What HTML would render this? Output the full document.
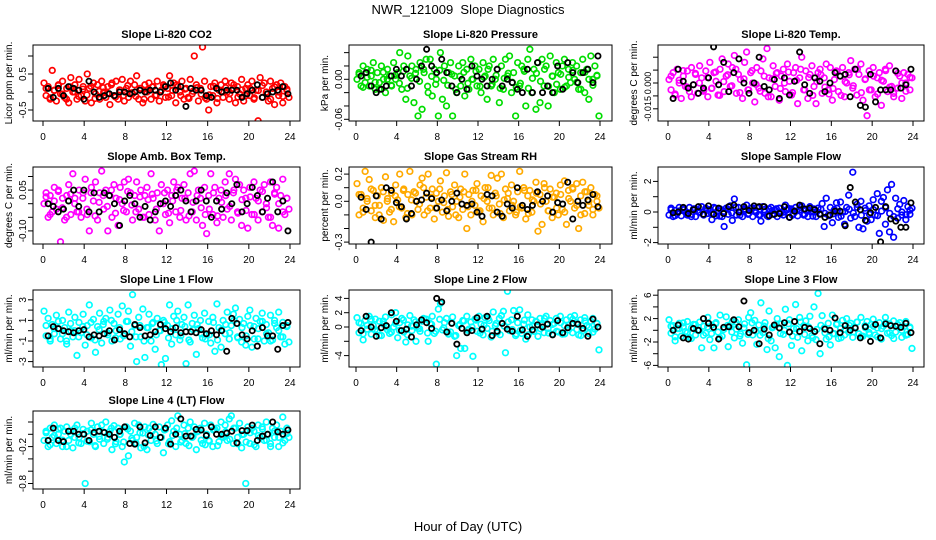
<!DOCTYPE html>
<html><head><meta charset="utf-8"><style>
html,body{margin:0;padding:0;background:#fff;}
svg{display:block;font-family:"Liberation Sans",sans-serif;}
</style></head><body>
<svg id="chart" width="936" height="540" viewBox="0 0 936 540" xmlns="http://www.w3.org/2000/svg">
<rect width="936" height="540" fill="#fff"/>
<text x="468" y="14" font-size="13" text-anchor="middle">NWR_121009&#160; Slope Diagnostics</text>
<text x="468" y="531" font-size="13" text-anchor="middle">Hour of Day (UTC)</text>
</svg>
<script>
const co2Color=[0.25,-0.1,0.15,-0.2,0.6,0.05,-0.25,0.2,-0.05,0.3,-0.15,0.1,-0.3,0.4,0.0,0.2,-0.2,0.35,-0.1,0.15,-0.25,0.5,0.1,-0.3,0.25,-0.05,0.2,-0.2,0.3,0.0,-0.15,0.15,-0.35,0.25,-0.1,0.3,-0.2,0.05,0.35,-0.25,0.1,-0.15,0.3,-0.05,0.2,0.45,-0.2,0.1,-0.3,0.2,0.0,0.25,-0.2,0.15,-0.1,0.3,-0.25,0.05,0.2,-0.15,0.1,0.45,-0.1,0.25,-0.3,0.15,0.0,0.3,-0.2,0.1,-0.15,0.35,-0.05,1.0,0.2,-0.25,0.1,1.25,0.3,-0.2,-0.5,0.15,-0.1,0.25,-0.3,0.05,0.2,-0.15,0.3,0.0,-0.2,0.25,0.1,-0.3,0.15,-0.05,0.35,-0.25,0.1,0.2,-0.1,0.3,-0.2,0.05,-0.8,0.4,-0.15,0.25,0.0,-0.25,0.3,0.1,-0.35,0.2,-0.1,0.25,-0.3,0.15,0.05,-0.15];
const co2Band=[0.1,-0.16,0.04,0.18,-0.06,-0.2,0.14,0,-0.12,0.08,-0.08,0.16,-0.18,0.02,0.12,-0.04,0.2,-0.14,0.06,-0.1,0.18,-0.02,-0.12,0.1,-0.2,0.06,0.14,-0.08,0,0.16,-0.14,0.04,0.2,-0.1,0.08,-0.18,0.02,0.12,-0.06,-0.16,-0.08,0.16,-0.18,0.02,0.12,-0.04,0.2,-0.14,0.06,-0.1,0.1,-0.16,0.04,0.18,-0.06,-0.2,0.14,0,-0.12,0.08];
const co2Black=[0.1,-0.15,0.1,-0.1,0.15,0.1,0.05,-0.2,0.3,0,-0.15,-0.1,-0.05,-0.1,0,0,-0.05,0,0.05,0,0.05,0.05,0,0.15,0.25,0.05,0.15,-0.4,0.1,0.05,0.05,-0.1,-0.15,0.1,0,0.05,0.05,0.05,-0.15,-0.05,0.05,0.2,-0.15,-0.05,0,0.05,0.15,-0.05];
const presColor=[0.0,0.01,-0.01,0.02,-0.005,0.015,-0.01,0.005,0.025,-0.015,0.01,-0.005,0.02,0.0,-0.02,0.015,0.005,-0.01,0.025,0.0,0.01,0.04,-0.015,0.02,-0.03,0.035,0.005,0.02,-0.035,0.015,-0.055,0.025,-0.045,0.01,0.03,-0.02,0.03,-0.025,0.015,0.0,-0.055,0.04,-0.03,0.02,-0.04,0.01,0.025,-0.055,0.005,-0.02,0.02,-0.01,0.025,-0.025,0.015,-0.015,0.03,0.0,0.02,-0.01,0.015,-0.02,0.025,0.005,-0.03,0.02,-0.01,0.03,0.0,0.015,-0.035,0.02,-0.015,0.03,0.005,0.035,-0.02,0.01,-0.055,0.025,-0.01,0.02,0.015,-0.04,0.03,0.045,-0.02,0.015,-0.045,0.025,-0.035,0.03,-0.01,0.02,-0.04,0.035,0.005,-0.02,0.025,0.01,-0.015,0.02,0.03,-0.01,0.015,-0.005,0.025,0.0,0.02,-0.015,0.01,0.03,-0.02,0.015,-0.03,0.035,0.0,0.02,0.005,-0.055];
const presBand=[0.0075,-0.012,0.003,0.0135,-0.0045,-0.015,0.0105,0,-0.009,0.006,-0.006,0.012,-0.0135,0.0015,0.009,-0.003,0.015,-0.0105,0.0045,-0.0075,0.0135,-0.0015,-0.009,0.0075,-0.015,0.0045,0.0105,-0.006,0,0.012,-0.0105,0.003,0.015,-0.0075,0.006,-0.0135,0.0015,0.009,-0.0045,-0.012,-0.006,0.012,-0.0135,0.0015,0.009,-0.003,0.015,-0.0105,0.0045,-0.0075,0.0075,-0.012,0.003,0.0135,-0.0045,-0.015,0.0105,0,-0.009,0.006];
const presBlack=[0.005,0.01,-0.01,-0.02,-0.015,-0.01,0.005,0.015,0.005,0.015,-0.01,0.0,0.02,0.045,0.02,0.01,0.03,0.01,-0.01,-0.02,0.0,-0.015,0.02,0.005,0.0,-0.01,0.0,0.015,-0.01,0.0,-0.005,-0.015,-0.02,0.015,-0.02,0.025,-0.02,-0.01,-0.02,0.02,-0.015,0.025,0.01,-0.005,0.01,0.015,-0.005,0.035];
const tempColor=[0.002,-0.004,0.006,-0.007,0.008,0.0,-0.009,0.004,-0.002,0.007,-0.005,0.009,-0.001,0.005,-0.006,0.01,0.003,-0.004,0.007,-0.008,0.012,-0.003,0.006,0.001,-0.007,0.008,0.014,-0.005,0.004,0.011,-0.002,0.009,0.016,-0.006,0.005,0.002,-0.009,0.012,0.018,-0.004,0.006,0.0,-0.011,0.009,-0.003,0.007,0.014,-0.006,0.02,0.003,-0.008,0.01,-0.002,0.006,-0.01,0.004,0.008,-0.005,0.011,0.001,-0.007,0.006,0.009,-0.012,0.003,0.015,-0.004,0.007,-0.009,0.005,0.01,-0.002,-0.012,0.006,0.008,-0.006,0.003,0.011,-0.004,0.009,-0.01,0.002,0.007,-0.005,0.004,0.009,-0.008,0.0,0.006,0.013,-0.003,0.008,-0.007,0.005,0.011,-0.01,0.002,-0.019,0.007,-0.004,0.009,-0.008,0.003,0.006,-0.013,0.001,0.008,-0.005,0.01,-0.002,-0.006,0.007,-0.003,0.004,-0.009,0.006,0.0,0.005,-0.004,0.003];
const tempBand=[0.004,-0.0064,0.0016,0.0072,-0.0024,-0.008,0.0056,0,-0.0048,0.0032,-0.0032,0.0064,-0.0072,0.0008,0.0048,-0.0016,0.008,-0.0056,0.0024,-0.004,0.0072,-0.0008,-0.0048,0.004,-0.008,0.0024,0.0056,-0.0032,0,0.0064,-0.0056,0.0016,0.008,-0.004,0.0032,-0.0072,0.0008,0.0048,-0.0024,-0.0064,-0.0032,0.0064,-0.0072,0.0008,0.0048,-0.0016,0.008,-0.0056,0.0024,-0.004,0.004,-0.0064,0.0016,0.0072,-0.0024,-0.008,0.0056,0,-0.0048,0.0032];
const tempBlack=[-0.009,0.008,0.001,-0.003,-0.001,-0.006,-0.003,0.003,0.021,-0.001,0.012,-0.005,0.006,0.014,0.0,-0.006,0.0,0.015,-0.002,-0.004,0.002,-0.009,0.003,-0.007,0.001,0.018,-0.001,-0.006,0.003,0.001,-0.005,0.0,0.006,0.004,0.005,-0.008,0.008,-0.013,-0.014,0.005,-0.011,-0.004,-0.004,-0.004,0.007,-0.003,-0.001,0.008];
const ambColor=[0.0,0.04,-0.05,0.03,-0.03,0.06,-0.02,0.05,-0.14,0.02,-0.06,0.03,0.07,-0.04,0.11,0.02,-0.03,0.05,-0.05,0.04,0.09,-0.04,-0.1,0.06,0.01,0.08,-0.06,0.04,0.12,-0.02,0.05,-0.1,0.03,-0.05,0.07,0.02,-0.08,0.06,0.0,0.08,-0.03,0.09,0.04,-0.06,0.03,0.08,-0.02,0.05,-0.05,0.03,0.06,-0.04,0.11,0.02,-0.06,0.04,-0.1,0.07,0.0,-0.04,0.05,-0.07,0.03,0.08,-0.03,0.06,-0.05,0.02,0.07,-0.06,0.04,0.11,-0.03,0.12,-0.06,0.05,0.02,-0.08,0.06,-0.11,0.03,0.11,-0.04,0.06,-0.07,0.02,0.05,-0.05,0.08,-0.02,0.11,-0.06,0.04,0.09,-0.03,0.07,-0.08,0.05,0.02,-0.09,0.06,-0.04,0.08,0.02,-0.06,0.05,-0.03,0.07,0.0,-0.05,0.08,-0.08,0.04,0.06,-0.09,0.03,0.09,-0.04,0.02,-0.02];
const ambBand=[0.025,-0.04,0.01,0.045,-0.015,-0.05,0.035,0,-0.03,0.02,-0.02,0.04,-0.045,0.005,0.03,-0.01,0.05,-0.035,0.015,-0.025,0.045,-0.005,-0.03,0.025,-0.05,0.015,0.035,-0.02,0,0.04,-0.035,0.01,0.05,-0.025,0.02,-0.045,0.005,0.03,-0.015,-0.04,-0.02,0.04,-0.045,0.005,0.03,-0.01,0.05,-0.035,0.015,-0.025,0.025,-0.04,0.01,0.045,-0.015,-0.05,0.035,0,-0.03,0.02];
const ambBlack=[0.0,-0.01,-0.03,-0.02,0.01,0.05,-0.01,0.05,-0.03,0.04,-0.03,0.04,0.03,0.0,-0.08,0.01,0.03,0.0,-0.05,-0.01,-0.06,-0.03,0.0,0.01,-0.01,0.03,0.05,0.01,-0.03,0.01,0.05,0.01,-0.05,0.01,-0.02,0.04,0.0,0.07,-0.03,0.0,0.06,0.03,-0.03,0.02,0.08,-0.03,0.01,-0.1];
const rhColor=[0.13,-0.1,0.05,-0.05,0.22,0.0,0.16,-0.07,0.08,-0.12,0.04,-0.03,0.1,-0.14,0.18,0.02,-0.08,0.06,-0.15,0.12,0.01,0.2,-0.05,0.09,-0.12,0.05,0.22,-0.1,0.07,0.0,-0.06,0.12,0.17,-0.1,0.03,0.2,-0.05,0.09,-0.13,0.06,0.0,0.15,-0.08,0.04,0.21,-0.11,0.07,-0.04,0.12,0.0,-0.12,0.09,-0.06,0.2,-0.2,0.05,-0.1,0.08,-0.03,0.13,-0.08,0.04,-0.15,0.1,0.0,-0.05,0.19,-0.1,0.06,0.17,-0.02,0.2,-0.12,0.09,0.02,-0.07,0.12,0.0,-0.1,0.07,0.22,-0.05,0.1,-0.13,0.04,0.08,-0.08,0.0,0.14,-0.22,0.05,-0.17,0.13,0.0,-0.07,0.09,-0.12,0.03,0.06,-0.1,0.12,-0.06,0.15,-0.17,0.08,0.0,0.1,-0.05,0.13,-0.2,0.04,0.14,-0.09,0.07,-0.03,0.1,-0.1,0.05,0.0,-0.05];
const rhBand=[0.05,-0.08,0.02,0.09,-0.03,-0.1,0.07,0,-0.06,0.04,-0.04,0.08,-0.09,0.01,0.06,-0.02,0.1,-0.07,0.03,-0.05,0.09,-0.01,-0.06,0.05,-0.1,0.03,0.07,-0.04,0,0.08,-0.07,0.02,0.1,-0.05,0.04,-0.09,0.01,0.06,-0.03,-0.08,-0.04,0.08,-0.09,0.01,0.06,-0.02,0.1,-0.07,0.03,-0.05,0.05,-0.08,0.02,0.09,-0.03,-0.1,0.07,0,-0.06,0.04];
const rhBlack=[0.03,-0.06,-0.3,0.04,-0.13,0.1,0.08,-0.01,-0.04,-0.13,-0.09,0.0,0.01,0.06,0.02,-0.05,0.01,-0.07,0.0,0.06,-0.02,-0.03,-0.02,-0.08,-0.11,0.05,0.04,-0.08,-0.11,-0.02,-0.05,0.1,-0.03,-0.06,-0.03,0.07,0.0,0.04,-0.08,-0.01,-0.02,0.14,-0.13,0.0,-0.03,0.01,0.05,-0.04];
const sampleColor=[-0.2,0.25,-0.3,0.1,-0.1,0.3,-0.25,0.15,0.0,-0.2,0.3,-0.15,0.2,-0.3,0.1,-0.05,0.35,-0.2,0.25,-0.1,0.15,-0.5,0.3,-0.25,0.1,0.2,-0.3,-0.95,0.25,-0.15,0.4,-0.55,0.85,-0.2,0.3,0.0,-0.3,0.2,0.45,-0.1,0.25,-0.3,0.1,0.3,-0.2,-0.6,0.35,0.0,-0.25,0.2,0.3,-0.15,0.1,-0.3,0.25,0.0,-0.2,0.45,0.15,-0.35,0.2,-0.1,0.3,-0.25,0.15,0.4,-0.2,0.1,-0.3,0.35,0.0,0.2,-0.3,0.25,-0.1,0.55,-0.95,0.9,-0.2,0.3,-0.7,0.15,0.6,-0.35,0.65,0.0,-0.8,0.3,1.1,-0.4,2.6,-0.3,0.5,-1.0,0.7,-1.1,0.25,-0.6,0.4,-0.5,0.8,-0.2,1.2,-1.4,0.7,0.95,-0.8,1.45,-1.3,1.8,-1.65,0.9,-0.4,0.5,-0.2,0.75,-0.5,0.35,-0.15,0.25];
const sampleBand=[0.15,-0.24,0.06,0.27,-0.09,-0.3,0.21,0,-0.18,0.12,-0.12,0.24,-0.27,0.03,0.18,-0.06,0.3,-0.21,0.09,-0.15,0.27,-0.03,-0.18,0.15,-0.3,0.09,0.21,-0.12,0,0.24,-0.21,0.06,0.3,-0.15,0.12,-0.27,0.03,0.18,-0.09,-0.24,-0.12,0.24,-0.27,0.03,0.18,-0.06,0.3,-0.21,0.09,-0.15,0.15,-0.24,0.06,0.27,-0.09,-0.3,0.21,0,-0.18,0.12];
const sampleBlack=[-0.05,0.0,0.3,-0.1,0.15,0.35,-0.15,0.4,-0.15,0.25,-0.1,0.35,0.45,0.0,0.35,0.1,0.4,0.35,0.35,-0.25,-0.15,-0.1,0.35,-0.35,0.05,0.45,0.2,0.25,0.15,-0.15,-0.35,-0.2,0.05,0.05,-0.9,1.6,0.65,0.15,-0.55,-0.05,0.3,-1.95,0.35,-0.45,-0.6,-1.0,-1.0,0.6];
const line1Color=[1.9,-0.5,1.2,-1.0,0.6,-0.3,1.5,0.2,-0.8,1.0,0.3,-1.3,1.8,0.0,-0.6,1.3,-2.4,0.8,-0.2,1.6,-1.4,0.5,2.5,-0.7,1.1,-2.1,0.4,1.7,-1.2,0.9,1.2,-0.4,2.0,-1.0,0.7,0.0,1.6,-0.8,2.4,-0.3,0.9,1.9,-1.5,3.5,0.5,-3.0,1.3,-0.6,2.1,-2.6,0.3,1.6,-1.0,0.8,-1.8,1.2,0.0,-3.3,1.0,-2.7,0.5,2.5,-1.3,1.4,-0.4,1.9,-0.9,0.6,1.3,-3.2,2.5,-1.1,0.7,1.5,-2.3,0.2,1.0,-0.7,1.7,-0.4,0.9,-1.2,1.3,-2.0,2.6,0.3,-1.6,1.0,-0.3,1.8,-0.8,0.5,1.6,2.2,-0.6,1.1,-1.1,0.7,-1.4,1.4,2.0,-1.6,0.4,1.2,-0.8,0.9,1.7,-1.0,0.6,-0.2,1.5,-0.9,1.0,0.3,1.8,-0.6,0.8,-1.3,0.5,-1.1];
const line1Band=[0.5,-0.8,0.2,0.9,-0.3,-1,0.7,0,-0.6,0.4,-0.4,0.8,-0.9,0.1,0.6,-0.2,1,-0.7,0.3,-0.5,0.9,-0.1,-0.6,0.5,-1,0.3,0.7,-0.4,0,0.8,-0.7,0.2,1,-0.5,0.4,-0.9,0.1,0.6,-0.3,-0.8,-0.4,0.8,-0.9,0.1,0.6,-0.2,1,-0.7,0.3,-0.5,0.5,-0.8,0.2,0.9,-0.3,-1,0.7,0,-0.6,0.4];
const line1Black=[-0.5,0.4,0.2,0.0,-0.1,-0.2,0.0,0.1,-0.6,-0.4,-0.5,-0.3,0.0,-0.9,0.1,-0.3,-0.6,0.6,0.3,-0.5,-0.4,-0.1,0.6,0.2,-0.1,0.3,-0.2,-0.1,-0.1,-0.2,0.1,-0.3,0.0,-0.4,0.0,-2.0,1.2,0.7,-0.4,-0.8,0.0,-1.5,0.3,-0.5,-0.5,-1.8,0.5,0.8];
const line2Color=[1.3,-0.8,0.5,-1.8,0.9,-0.3,1.5,-1.0,0.2,1.1,-0.6,0.8,-1.2,0.4,1.4,-0.4,-0.9,1.7,0.0,2.0,-1.5,0.6,1.2,-0.7,-2.1,0.3,1.6,-0.5,1.0,-2.0,-0.2,-0.6,0.8,1.1,1.1,-2.0,0.5,1.5,-0.9,-5.2,2.5,3.3,-0.4,0.6,1.2,-1.0,-0.7,1.4,-1.3,-4.0,0.2,-3.0,0.9,-3.0,1.5,-0.3,0.7,-4.1,1.1,-0.6,1.5,0.4,-1.1,1.3,-0.2,0.9,-1.4,2.1,0.2,-0.8,1.2,1.6,2.2,-3.6,5.0,-0.5,1.0,2.3,-1.2,0.6,2.4,-0.9,0.4,-1.7,1.7,0.0,1.0,-0.6,0.8,-1.3,1.2,0.3,-0.8,1.5,-0.2,0.9,-1.0,0.5,1.2,-0.7,1.5,-1.0,0.2,1.0,-0.4,1.4,-0.8,1.6,0.6,-1.1,1.0,-0.5,1.3,0.2,-0.9,0.8,1.2,-0.3,0.5,-3.2];
const line2Band=[0.6,-0.96,0.24,1.08,-0.36,-1.2,0.84,0,-0.72,0.48,-0.48,0.96,-1.08,0.12,0.72,-0.24,1.2,-0.84,0.36,-0.6,1.08,-0.12,-0.72,0.6,-1.2,0.36,0.84,-0.48,0,0.96,-0.84,0.24,1.2,-0.6,0.48,-1.08,0.12,0.72,-0.36,-0.96,-0.48,0.96,-1.08,0.12,0.72,-0.24,1.2,-0.84,0.36,-0.6,0.6,-0.96,0.24,1.08,-0.36,-1.2,0.84,0,-0.72,0.48];
const line2Black=[-0.5,1.5,0.0,-1.3,-0.1,0.2,2.0,0.8,-0.5,-0.3,-1.4,0.3,1.0,0.6,-0.2,4.0,3.5,-0.7,0.5,-2.4,-0.2,-0.8,-0.5,1.3,-0.3,1.5,-1.2,-0.6,0.5,-0.3,-0.6,1.5,-0.4,-1.3,-0.4,0.3,0.0,0.4,-1.1,0.9,-0.8,-0.1,0.5,0.4,-0.2,-1.3,1.1,0.0];
const line3Color=[1.8,-0.5,0.8,-1.8,0.3,1.2,-1.0,0.6,-0.2,1.5,-1.2,0.4,1.0,-0.8,0.0,1.4,-3.0,0.7,-0.5,2.2,-1.6,0.9,-3.0,1.3,-0.3,2.6,-1.0,0.5,2.3,-2.8,0.6,1.5,-1.3,0.2,1.8,-0.6,-2.2,1.1,-5.9,2.2,3.0,-0.8,1.7,-2.4,0.9,4.7,-0.4,1.3,-3.3,3.3,-1.8,0.6,-3.0,2.0,-4.5,1.1,-0.7,3.6,-6.0,1.8,-2.6,0.3,4.4,-1.2,2.2,-3.5,0.8,1.6,-1.8,2.4,-0.9,4.0,-1.6,6.3,-4.0,2.5,0.4,-1.5,1.2,-2.5,2.6,-0.6,1.0,-1.4,0.3,1.7,-0.8,2.0,-0.3,1.2,-1.2,0.5,1.4,-0.6,2.2,-1.0,0.8,1.5,-0.4,1.0,1.9,-0.8,0.4,1.3,-1.5,0.7,2.2,-0.5,1.1,-0.9,1.6,-0.3,0.9,1.3,-1.2,0.6,1.5,-0.7,0.4,-3.1];
const line3Band=[0.7,-1.12,0.28,1.26,-0.42,-1.4,0.98,0,-0.84,0.56,-0.56,1.12,-1.26,0.14,0.84,-0.28,1.4,-0.98,0.42,-0.7,1.26,-0.14,-0.84,0.7,-1.4,0.42,0.98,-0.56,0,1.12,-0.98,0.28,1.4,-0.7,0.56,-1.26,0.14,0.84,-0.42,-1.12,-0.56,1.12,-1.26,0.14,0.84,-0.28,1.4,-0.98,0.42,-0.7,0.7,-1.12,0.28,1.26,-0.42,-1.4,0.98,0,-0.84,0.56];
const line3Black=[0.0,0.9,-1.3,-1.5,0.3,0.0,2.0,1.2,0.5,-1.5,0.5,0.6,1.8,0.6,5.0,-0.4,0.0,-2.3,0.2,-0.8,0.9,0.4,1.3,-0.3,1.5,-0.2,0.5,0.3,-0.2,-2.3,0.2,0.0,2.1,-0.4,0.8,0.0,0.4,-1.3,0.6,-1.9,1.0,-1.3,1.1,0.8,0.7,0.5,1.2,-0.4];
const line4Color=[-0.1,0.05,-0.2,0.1,-0.05,0.15,-0.15,0.0,0.1,-0.2,0.05,0.12,-0.1,0.0,-0.22,0.1,0.15,-0.05,-0.15,0.08,-0.8,0.05,-0.12,0.18,0.0,-0.2,0.12,-0.08,0.15,-0.15,0.2,-0.05,0.05,-0.25,0.14,-0.12,0.1,0.0,-0.2,-0.45,0.12,-0.35,0.05,-0.1,0.18,-0.05,0.15,-0.22,0.02,0.12,-0.25,0.1,-0.1,0.16,0.0,-0.15,0.12,-0.05,-0.3,0.08,0.15,-0.12,0.22,0.05,-0.2,0.3,0.0,-0.1,0.15,-0.15,0.1,0.2,-0.05,0.12,-0.25,0.05,0.1,-0.15,0.18,0.0,-0.1,0.15,-0.2,0.08,0.1,-0.12,0.2,-0.05,0.15,-0.1,0.25,0.3,-0.15,0.1,-0.05,0.18,-0.22,0.0,-0.8,0.12,-0.15,0.1,0.05,-0.2,0.15,-0.05,0.12,-0.1,0.2,0.0,-0.15,0.1,-0.05,0.15,-0.2,0.05,0.28,-0.1,0.1,-0.05];
const line4Band=[0.025,-0.17,-0.02,0.085,-0.095,-0.2,0.055,-0.05,-0.14,0.01,-0.11,0.07,-0.185,-0.035,0.04,-0.08,0.1,-0.155,-0.005,-0.125,0.085,-0.065,-0.14,0.025,-0.2,-0.005,0.055,-0.11,-0.05,0.07,-0.155,-0.02,0.1,-0.125,0.01,-0.185,-0.035,0.04,-0.095,-0.17,-0.11,0.07,-0.185,-0.035,0.04,-0.08,0.1,-0.155,-0.005,-0.125,0.025,-0.17,-0.02,0.085,-0.095,-0.2,0.055,-0.05,-0.14,0.01];
const line4Black=[-0.1,0.1,-0.1,-0.12,0.05,0.05,0.0,0.0,-0.1,0.03,0.05,0.03,0.0,-0.05,0.05,0.12,-0.15,-0.16,0.12,-0.14,-0.02,0.12,-0.05,0.1,-0.16,0.0,0.25,-0.03,-0.03,0.08,0.07,-0.02,0.12,0.0,0.0,0.02,0.05,-0.14,0.06,0.06,0.15,-0.1,-0.03,0.0,0.2,0.04,0.0,0.07];
const xTicks=[0,4,8,12,16,20,24];

const NS="http://www.w3.org/2000/svg";
const svg=document.getElementById('chart');
function mk(tag,attrs,parent){const e=document.createElementNS(NS,tag);for(const k in attrs)e.setAttribute(k,attrs[k]);(parent||svg).appendChild(e);return e;}
const cols=[{l:33,r:300,x0:43,x24:290},{l:349,r:612,x0:356,x24:600},{l:658,r:924,x0:668,x24:913}];
const rows=[{t:45,b:121},{t:167,b:244},{t:290,b:367},{t:411,b:489}];
const panels=[
 {id:'co2',title:'Slope Li-820 CO2',ylab:'Licor ppm per min.',c:0,r:0,zero:92,ppu:36,ticks:[-0.5,0,0.5,1],labels:{'-0.5':'-0.5','0.5':'0.5'},color:'#ff0000',cv:co2Color,dv:co2Band,bv:co2Black},
 {id:'pressure',title:'Slope Li-820 Pressure',ylab:'kPa per min.',c:1,r:0,zero:79.3,ppu:666.7,ticks:[-0.06,-0.04,-0.02,0,0.02,0.04],labels:{'0':'0.00','-0.06':'-0.06'},color:'#00dd00',cv:presColor,dv:presBand,bv:presBlack},
 {id:'temp',title:'Slope Li-820 Temp.',ylab:'degrees C per min.',c:2,r:0,zero:83,ppu:1720,ticks:[-0.015,-0.0075,0,0.0075,0.015],labels:{'0':'0.000','-0.015':'-0.015'},color:'#ff00ff',cv:tempColor,dv:tempBand,bv:tempBlack,lfs:9},
 {id:'amb-box-temp',title:'Slope Amb. Box Temp.',ylab:'degrees C per min.',c:0,r:1,zero:203.7,ppu:272,ticks:[-0.1,-0.05,0,0.05,0.1],labels:{'0.05':'0.05','-0.1':'-0.10'},color:'#ff00ff',cv:ambColor,dv:ambBand,bv:ambBlack},
 {id:'gas-rh',title:'Slope Gas Stream RH',ylab:'percent per min.',c:1,r:1,zero:201.3,ppu:136,ticks:[-0.3,-0.2,-0.1,0,0.1,0.2],labels:{'0.2':'0.2','0':'0.0','-0.3':'-0.3'},color:'#ffaa00',cv:rhColor,dv:rhBand,bv:rhBlack},
 {id:'sample-flow',title:'Slope Sample Flow',ylab:'ml/min per min.',c:2,r:1,zero:212,ppu:15.3,ticks:[-2,-1,0,1,2],labels:{'2':'2','0':'0','-2':'-2'},color:'#0000ff',cv:sampleColor,dv:sampleBand,bv:sampleBlack},
 {id:'line1-flow',title:'Slope Line 1 Flow',ylab:'ml/min per min.',c:0,r:2,zero:330.7,ppu:10.3,ticks:[-3,-2,-1,0,1,2,3],labels:{'3':'3','1':'1','-1':'-1','-3':'-3'},color:'#00ffff',cv:line1Color,dv:line1Band,bv:line1Black},
 {id:'line2-flow',title:'Slope Line 2 Flow',ylab:'ml/min per min.',c:1,r:2,zero:327,ppu:7.15,ticks:[-4,-2,0,2,4],labels:{'4':'4','2':'2','0':'0','-4':'-4'},color:'#00ffff',cv:line2Color,dv:line2Band,bv:line2Black},
 {id:'line3-flow',title:'Slope Line 3 Flow',ylab:'ml/min per min.',c:2,r:2,zero:330.3,ppu:5.85,ticks:[-6,-4,-2,0,2,4,6],labels:{'6':'6','2':'2','-2':'-2','-6':'-6'},color:'#00ffff',cv:line3Color,dv:line3Band,bv:line3Black},
 {id:'line4-flow',title:'Slope Line 4 (LT) Flow',ylab:'ml/min per min.',c:0,r:3,zero:434.3,ppu:61.5,ticks:[-0.8,-0.6,-0.4,-0.2,0,0.2],labels:{'-0.2':'-0.2','-0.8':'-0.8'},color:'#00ffff',cv:line4Color,dv:line4Band,bv:line4Black}
];
panels.forEach(p=>{
  const col=cols[p.c],row=rows[p.r];
  const xs=h=>col.x0+(col.x24-col.x0)*h/24;
  const ys=v=>p.zero-v*p.ppu;
  const g=mk('g',{});
  
  
  const t=mk('text',{x:(col.l+col.r)/2,y:row.t-7,'font-size':11,'font-weight':'bold','text-anchor':'middle'},g);
  t.textContent=p.title;
  
  
  const yl=mk('text',{x:0,y:0,'font-size':10,'text-anchor':'middle',transform:`translate(${col.l-21},${(row.t+row.b)/2}) rotate(-90)`},g);
  yl.textContent=p.ylab;
  
  
  const clip=mk('clipPath',{id:'clip-'+p.id},g);
  mk('rect',{x:col.l,y:row.t,width:col.r-col.l,height:row.b-row.t},clip);
  const pts=mk('g',{},g);
  
  
  pts.setAttribute('clip-path','url(#clip-'+p.id+')');
  const n=p.cv.length;
  p.cv.forEach((v,i)=>{
    const h=0.1+23.8*i/(n-1);
    const c=mk('circle',{cx:xs(h),cy:ys(v),r:2.8,fill:'none',stroke:p.color,'stroke-width':1.7},pts);
    
    
  });
  const k=p.dv.length;
  p.dv.forEach((v,i)=>{
    const h=0.3+23.4*i/(k-1);
    const c=mk('circle',{cx:xs(h),cy:ys(v),r:2.8,fill:'none',stroke:p.color,'stroke-width':1.7},pts);
    
    
  });
  const m=p.bv.length;
  p.bv.forEach((v,i)=>{
    const h=0.5+23.3*i/(m-1);
    const c=mk('circle',{cx:xs(h),cy:ys(v),r:2.6,fill:'none',stroke:'#000','stroke-width':1.8},pts);
    
    
  });
  const box=mk('rect',{x:col.l,y:row.t,width:col.r-col.l,height:row.b-row.t,fill:'none',stroke:'#000','stroke-width':1},g);
  
  
  p.ticks.forEach(v=>{
    const y=ys(v);
    mk('line',{x1:col.l-5,x2:col.l,y1:y,y2:y,stroke:'#000'},g);
    const key=String(v);
    if(p.labels[key]!==undefined){
      const tl=mk('text',{x:0,y:0,'font-size':p.lfs||10,'text-anchor':'middle',transform:`translate(${col.l-7},${y}) rotate(-90)`},g);
      tl.textContent=p.labels[key];
      
      
    }
  });
  xTicks.forEach(h=>{
    const x=xs(h);
    mk('line',{x1:x,x2:x,y1:row.b,y2:row.b+5,stroke:'#000'},g);
    const tl=mk('text',{x:x,y:row.b+19,'font-size':10,'text-anchor':'middle'},g);
    tl.textContent=h;
    
    
  });
});
</script>
</body></html>
